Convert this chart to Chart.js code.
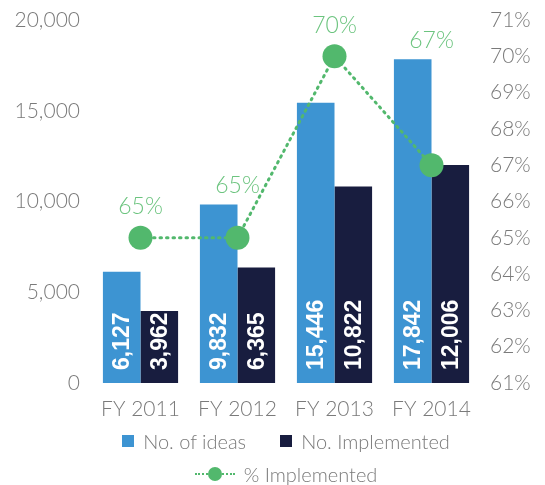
<!DOCTYPE html>
<html>
<head>
<meta charset="utf-8">
<script src="https://cdn.jsdelivr.net/npm/chart.js@4"></script>
<style>
  html, body { margin: 0; padding: 0; background: #fff; }
  #wrap { position: relative; width: 545px; height: 485px; }
  #legend { position: absolute; left: 92px; top: 424px; width: 388px; font-family: Lato, "Open Sans", sans-serif; font-weight: 300; font-size: 20px; color: #7a7a7a; }
  .row { display: flex; justify-content: center; align-items: center; height: 33px; white-space: nowrap; }
  .item { display: flex; align-items: center; margin: 0 17px; }
  .box { width: 12px; height: 12px; margin-right: 9px; }
  .lineKey { position: relative; width: 40px; height: 14px; margin-right: 9px; }
  .lineKey .dash { position: absolute; left: 0; right: 0; top: 6px; border-top: 2.5px dotted #52b86d; }
  .lineKey .dot { position: absolute; left: 13px; top: 0; width: 14px; height: 14px; border-radius: 50%; background: #52b86d; }
</style>
</head>
<body>
<div id="wrap">
  <canvas id="chart" width="545" height="485"></canvas>
  <div id="legend">
    <div class="row">
      <div class="item"><span class="box" style="background:#3d94d2"></span>No. of ideas</div>
      <div class="item"><span class="box" style="background:#181d3f"></span>No. Implemented</div>
    </div>
    <div class="row">
      <div class="item"><span class="lineKey"><span class="dash"></span><span class="dot"></span></span>% Implemented</div>
    </div>
  </div>
</div>
<script>
const categories = ["FY 2011", "FY 2012", "FY 2013", "FY 2014"];
const ideas = [6127, 9832, 15446, 17842];
const implemented = [3962, 6365, 10822, 12006];
const pctImplemented = [65, 65, 70, 67];

const BLUE = "#3d94d2";
const NAVY = "#181d3f";
const GREEN = "#52b86d";
const LABEL_GREEN = "#6cc47f";
const GREY = "#7a7a7a";
const FONT = "Lato, 'Open Sans', sans-serif";

const fmt = (v) => v.toLocaleString("en-US");

// draws the rotated values inside bars and the % labels above each group
const labelPlugin = {
    id: "labels",
    afterDatasetsDraw(chart) {
        const ctx = chart.ctx;
        const barA = chart.getDatasetMeta(0).data;
        const barB = chart.getDatasetMeta(1).data;
        const pts = chart.getDatasetMeta(2).data;

        ctx.save();
        ctx.fillStyle = "#fff";
        ctx.font = "bold 23px 'Liberation Sans', Arial, sans-serif";
        ctx.textAlign = "left";
        ctx.textBaseline = "middle";
        [[barA, ideas], [barB, implemented]].forEach(([bars, vals]) => {
            bars.forEach((bar, i) => {
                ctx.save();
                ctx.translate(bar.x, bar.base - 13);
                ctx.rotate(-Math.PI / 2);
                ctx.fillText(fmt(vals[i]), 0, 1);
                ctx.restore();
            });
        });

        ctx.fillStyle = LABEL_GREEN;
        ctx.font = "300 23px " + FONT;
        ctx.textAlign = "center";
        ctx.textBaseline = "middle";
        pts.forEach((pt, i) => {
            const top = Math.min(barA[i].y, barB[i].y, pt.y - 12);
            ctx.fillText(pctImplemented[i] + "%", pt.x, top - 19);
        });
        ctx.restore();
    }
};

const fixWidth = (w) => (s) => {
    s.width = w;
    s.paddingTop = 0;
    s.paddingBottom = 0;
};

new Chart(document.getElementById("chart"), {
    type: "bar",
    data: {
        labels: categories,
        datasets: [
            {
                label: "No. of ideas",
                data: ideas,
                backgroundColor: BLUE,
                yAxisID: "y",
                order: 2
            },
            {
                label: "No. Implemented",
                data: implemented,
                backgroundColor: NAVY,
                yAxisID: "y",
                order: 2
            },
            {
                type: "line",
                label: "% Implemented",
                data: pctImplemented,
                yAxisID: "y1",
                borderColor: GREEN,
                backgroundColor: GREEN,
                borderWidth: 3,
                borderDash: [1.5, 5],
                borderCapStyle: "round",
                pointRadius: 12,
                pointHoverRadius: 12,
                pointBorderWidth: 0,
                tension: 0,
                order: 1
            }
        ]
    },
    options: {
        responsive: false,
        animation: false,
        layout: { padding: { top: 20, left: 0, right: 0, bottom: 0 } },
        datasets: {
            bar: { categoryPercentage: 0.775, barPercentage: 1.0 }
        },
        plugins: {
            legend: { display: false },
            tooltip: { enabled: false }
        },
        scales: {
            x: {
                grid: { display: false, drawTicks: false },
                border: { display: false },
                ticks: { color: GREY, font: { family: FONT, size: 21, weight: 300 }, padding: 14 },
                afterFit: (s) => { s.height = 102; }
            },
            y: {
                position: "left",
                min: 0,
                max: 20000,
                grid: { display: false, drawTicks: false },
                border: { display: false },
                ticks: {
                    stepSize: 5000,
                    color: GREY,
                    padding: 12,
                    font: { family: FONT, size: 21, weight: 300 },
                    callback: (v) => fmt(v)
                },
                afterFit: fixWidth(92)
            },
            y1: {
                position: "right",
                min: 61,
                max: 71,
                grid: { display: false, drawTicks: false },
                border: { display: false },
                ticks: {
                    stepSize: 1,
                    color: GREY,
                    padding: 10,
                    font: { family: FONT, size: 21, weight: 300 },
                    callback: (v) => v + "%"
                },
                afterFit: fixWidth(65)
            }
        }
    },
    plugins: [labelPlugin]
});
</script>
</body>
</html>
